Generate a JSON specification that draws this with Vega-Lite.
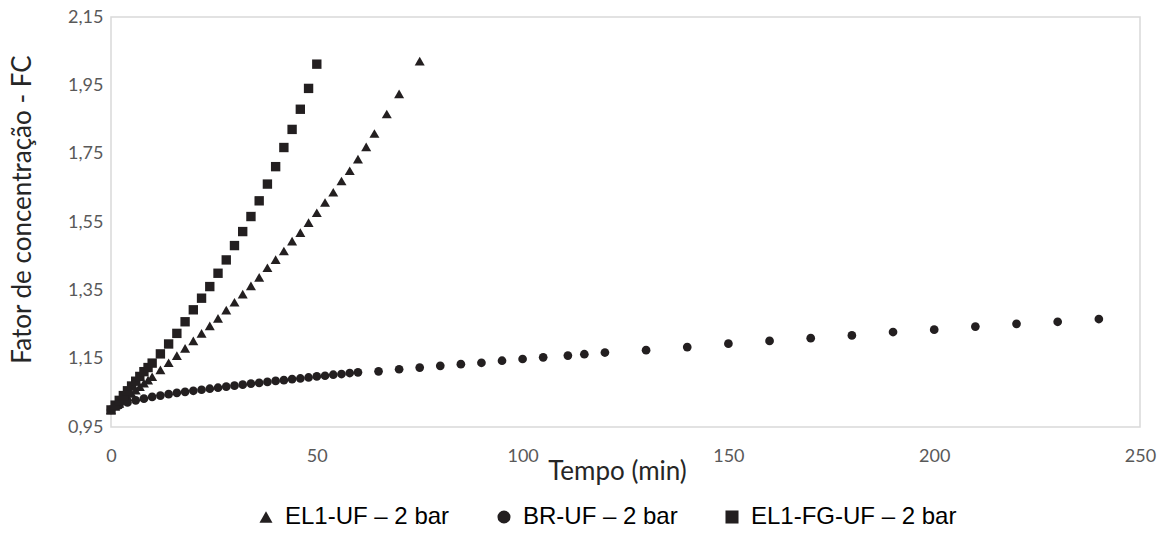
{
  "$schema": "https://vega.github.io/schema/vega-lite/v6.json",
  "autosize": "none",
  "width": 1029,
  "height": 410,
  "padding": {"left": 111, "top": 17, "right": 30, "bottom": 115},
  "background": "white",
  "config": {
    "view": {"stroke": "#d9d9d9", "strokeWidth": 1.5},
    "axis": {"grid": false, "domain": false, "ticks": false, "labelFlush": false, "labelFont": "Lato", "labelFontSize": 18, "labelColor": "#595959", "titleFont": "Lato", "titleFontSize": 26, "titleColor": "#262626", "titleFontWeight": "normal"}
  },
  "data": {"values": [
    {"t":0,"fc":1.000,"s":"EL1-UF – 2 bar"},{"t":1,"fc":1.010,"s":"EL1-UF – 2 bar"},{"t":2,"fc":1.019,"s":"EL1-UF – 2 bar"},{"t":3,"fc":1.029,"s":"EL1-UF – 2 bar"},{"t":4,"fc":1.039,"s":"EL1-UF – 2 bar"},{"t":5,"fc":1.048,"s":"EL1-UF – 2 bar"},{"t":6,"fc":1.058,"s":"EL1-UF – 2 bar"},{"t":7,"fc":1.068,"s":"EL1-UF – 2 bar"},{"t":8,"fc":1.078,"s":"EL1-UF – 2 bar"},{"t":9,"fc":1.087,"s":"EL1-UF – 2 bar"},{"t":10,"fc":1.097,"s":"EL1-UF – 2 bar"},{"t":12,"fc":1.117,"s":"EL1-UF – 2 bar"},{"t":14,"fc":1.138,"s":"EL1-UF – 2 bar"},{"t":16,"fc":1.159,"s":"EL1-UF – 2 bar"},{"t":18,"fc":1.180,"s":"EL1-UF – 2 bar"},{"t":20,"fc":1.202,"s":"EL1-UF – 2 bar"},{"t":22,"fc":1.224,"s":"EL1-UF – 2 bar"},{"t":24,"fc":1.246,"s":"EL1-UF – 2 bar"},{"t":26,"fc":1.268,"s":"EL1-UF – 2 bar"},{"t":28,"fc":1.292,"s":"EL1-UF – 2 bar"},{"t":30,"fc":1.315,"s":"EL1-UF – 2 bar"},{"t":32,"fc":1.339,"s":"EL1-UF – 2 bar"},{"t":34,"fc":1.363,"s":"EL1-UF – 2 bar"},{"t":36,"fc":1.388,"s":"EL1-UF – 2 bar"},{"t":38,"fc":1.416,"s":"EL1-UF – 2 bar"},{"t":40,"fc":1.440,"s":"EL1-UF – 2 bar"},{"t":42,"fc":1.465,"s":"EL1-UF – 2 bar"},{"t":44,"fc":1.494,"s":"EL1-UF – 2 bar"},{"t":46,"fc":1.519,"s":"EL1-UF – 2 bar"},{"t":48,"fc":1.548,"s":"EL1-UF – 2 bar"},{"t":50,"fc":1.577,"s":"EL1-UF – 2 bar"},{"t":52,"fc":1.607,"s":"EL1-UF – 2 bar"},{"t":54,"fc":1.637,"s":"EL1-UF – 2 bar"},{"t":56,"fc":1.670,"s":"EL1-UF – 2 bar"},{"t":58,"fc":1.700,"s":"EL1-UF – 2 bar"},{"t":60,"fc":1.734,"s":"EL1-UF – 2 bar"},{"t":62,"fc":1.770,"s":"EL1-UF – 2 bar"},{"t":64,"fc":1.809,"s":"EL1-UF – 2 bar"},{"t":67,"fc":1.866,"s":"EL1-UF – 2 bar"},{"t":70,"fc":1.925,"s":"EL1-UF – 2 bar"},{"t":75,"fc":2.021,"s":"EL1-UF – 2 bar"},
    {"t":0,"fc":1.000,"s":"BR-UF – 2 bar"},{"t":2,"fc":1.014,"s":"BR-UF – 2 bar"},{"t":4,"fc":1.022,"s":"BR-UF – 2 bar"},{"t":6,"fc":1.028,"s":"BR-UF – 2 bar"},{"t":8,"fc":1.033,"s":"BR-UF – 2 bar"},{"t":10,"fc":1.038,"s":"BR-UF – 2 bar"},{"t":12,"fc":1.042,"s":"BR-UF – 2 bar"},{"t":14,"fc":1.046,"s":"BR-UF – 2 bar"},{"t":16,"fc":1.050,"s":"BR-UF – 2 bar"},{"t":18,"fc":1.053,"s":"BR-UF – 2 bar"},{"t":20,"fc":1.056,"s":"BR-UF – 2 bar"},{"t":22,"fc":1.059,"s":"BR-UF – 2 bar"},{"t":24,"fc":1.062,"s":"BR-UF – 2 bar"},{"t":26,"fc":1.065,"s":"BR-UF – 2 bar"},{"t":28,"fc":1.068,"s":"BR-UF – 2 bar"},{"t":30,"fc":1.071,"s":"BR-UF – 2 bar"},{"t":32,"fc":1.074,"s":"BR-UF – 2 bar"},{"t":34,"fc":1.077,"s":"BR-UF – 2 bar"},{"t":36,"fc":1.079,"s":"BR-UF – 2 bar"},{"t":38,"fc":1.082,"s":"BR-UF – 2 bar"},{"t":40,"fc":1.085,"s":"BR-UF – 2 bar"},{"t":42,"fc":1.087,"s":"BR-UF – 2 bar"},{"t":44,"fc":1.090,"s":"BR-UF – 2 bar"},{"t":46,"fc":1.092,"s":"BR-UF – 2 bar"},{"t":48,"fc":1.095,"s":"BR-UF – 2 bar"},{"t":50,"fc":1.098,"s":"BR-UF – 2 bar"},{"t":52,"fc":1.100,"s":"BR-UF – 2 bar"},{"t":54,"fc":1.103,"s":"BR-UF – 2 bar"},{"t":56,"fc":1.105,"s":"BR-UF – 2 bar"},{"t":58,"fc":1.108,"s":"BR-UF – 2 bar"},{"t":60,"fc":1.110,"s":"BR-UF – 2 bar"},{"t":65,"fc":1.113,"s":"BR-UF – 2 bar"},{"t":70,"fc":1.119,"s":"BR-UF – 2 bar"},{"t":75,"fc":1.124,"s":"BR-UF – 2 bar"},{"t":80,"fc":1.129,"s":"BR-UF – 2 bar"},{"t":85,"fc":1.134,"s":"BR-UF – 2 bar"},{"t":90,"fc":1.138,"s":"BR-UF – 2 bar"},{"t":95,"fc":1.144,"s":"BR-UF – 2 bar"},{"t":100,"fc":1.149,"s":"BR-UF – 2 bar"},{"t":105,"fc":1.154,"s":"BR-UF – 2 bar"},{"t":111,"fc":1.159,"s":"BR-UF – 2 bar"},{"t":115,"fc":1.163,"s":"BR-UF – 2 bar"},{"t":120,"fc":1.168,"s":"BR-UF – 2 bar"},{"t":130,"fc":1.175,"s":"BR-UF – 2 bar"},{"t":140,"fc":1.184,"s":"BR-UF – 2 bar"},{"t":150,"fc":1.194,"s":"BR-UF – 2 bar"},{"t":160,"fc":1.202,"s":"BR-UF – 2 bar"},{"t":170,"fc":1.210,"s":"BR-UF – 2 bar"},{"t":180,"fc":1.218,"s":"BR-UF – 2 bar"},{"t":190,"fc":1.228,"s":"BR-UF – 2 bar"},{"t":200,"fc":1.235,"s":"BR-UF – 2 bar"},{"t":210,"fc":1.244,"s":"BR-UF – 2 bar"},{"t":220,"fc":1.252,"s":"BR-UF – 2 bar"},{"t":230,"fc":1.258,"s":"BR-UF – 2 bar"},{"t":240,"fc":1.266,"s":"BR-UF – 2 bar"},
    {"t":0,"fc":1.000,"s":"EL1-FG-UF – 2 bar"},{"t":1,"fc":1.014,"s":"EL1-FG-UF – 2 bar"},{"t":2,"fc":1.028,"s":"EL1-FG-UF – 2 bar"},{"t":3,"fc":1.042,"s":"EL1-FG-UF – 2 bar"},{"t":4,"fc":1.056,"s":"EL1-FG-UF – 2 bar"},{"t":5,"fc":1.070,"s":"EL1-FG-UF – 2 bar"},{"t":6,"fc":1.084,"s":"EL1-FG-UF – 2 bar"},{"t":7,"fc":1.098,"s":"EL1-FG-UF – 2 bar"},{"t":8,"fc":1.112,"s":"EL1-FG-UF – 2 bar"},{"t":9,"fc":1.124,"s":"EL1-FG-UF – 2 bar"},{"t":10,"fc":1.137,"s":"EL1-FG-UF – 2 bar"},{"t":12,"fc":1.164,"s":"EL1-FG-UF – 2 bar"},{"t":14,"fc":1.193,"s":"EL1-FG-UF – 2 bar"},{"t":16,"fc":1.224,"s":"EL1-FG-UF – 2 bar"},{"t":18,"fc":1.258,"s":"EL1-FG-UF – 2 bar"},{"t":20,"fc":1.293,"s":"EL1-FG-UF – 2 bar"},{"t":22,"fc":1.327,"s":"EL1-FG-UF – 2 bar"},{"t":24,"fc":1.361,"s":"EL1-FG-UF – 2 bar"},{"t":26,"fc":1.400,"s":"EL1-FG-UF – 2 bar"},{"t":28,"fc":1.439,"s":"EL1-FG-UF – 2 bar"},{"t":30,"fc":1.481,"s":"EL1-FG-UF – 2 bar"},{"t":32,"fc":1.522,"s":"EL1-FG-UF – 2 bar"},{"t":34,"fc":1.566,"s":"EL1-FG-UF – 2 bar"},{"t":36,"fc":1.612,"s":"EL1-FG-UF – 2 bar"},{"t":38,"fc":1.661,"s":"EL1-FG-UF – 2 bar"},{"t":40,"fc":1.712,"s":"EL1-FG-UF – 2 bar"},{"t":42,"fc":1.768,"s":"EL1-FG-UF – 2 bar"},{"t":44,"fc":1.821,"s":"EL1-FG-UF – 2 bar"},{"t":46,"fc":1.880,"s":"EL1-FG-UF – 2 bar"},{"t":48,"fc":1.941,"s":"EL1-FG-UF – 2 bar"},{"t":50,"fc":2.012,"s":"EL1-FG-UF – 2 bar"}
  ]},
  "encoding": {
    "x": {"field": "t", "type": "quantitative", "scale": {"domain": [0, 250], "nice": false, "zero": false},
      "axis": {"values": [0, 50, 100, 150, 200, 250], "title": "Tempo (min)", "labelPadding": 20, "titleX": 506, "titleY": 44, "titleAlign": "center", "titleBaseline": "middle"}},
    "y": {"field": "fc", "type": "quantitative", "scale": {"domain": [0.95, 2.15], "nice": false, "zero": false},
      "axis": {"values": [0.95, 1.15, 1.35, 1.55, 1.75, 1.95, 2.15], "labelExpr": "replace(format(datum.value, '.2f'), '.', ',')", "title": "Fator de concentração - FC", "labelPadding": 8, "titleX": -89, "titleY": 192, "titleAngle": -90, "titleAlign": "center", "titleBaseline": "middle"}},
    "shape": {"field": "s", "type": "nominal",
      "scale": {"domain": ["EL1-UF – 2 bar", "BR-UF – 2 bar", "EL1-FG-UF – 2 bar"], "range": ["triangle-up", "circle", "square"]},
      "legend": {"orient": "none", "legendX": 143, "legendY": 488, "direction": "horizontal", "title": null, "labelFont": "Liberation Sans", "labelFontSize": 24, "labelLimit": 500, "labelColor": "#000000", "symbolSize": 170, "symbolFillColor": "#231f20", "symbolStrokeColor": "#231f20", "symbolStrokeWidth": 0, "symbolOpacity": 1, "columnPadding": 42, "labelOffset": 7, "padding": 0}}
  },
  "layer": [
    {"transform": [{"filter": "datum.s == 'EL1-UF – 2 bar'"}], "mark": {"type": "point", "filled": true, "color": "#231f20", "opacity": 1, "size": 100}},
    {"transform": [{"filter": "datum.s == 'BR-UF – 2 bar'"}], "mark": {"type": "point", "filled": true, "color": "#231f20", "opacity": 1, "size": 76}},
    {"transform": [{"filter": "datum.s == 'EL1-FG-UF – 2 bar'"}], "mark": {"type": "point", "filled": true, "color": "#231f20", "opacity": 1, "size": 88}}
  ]
}
